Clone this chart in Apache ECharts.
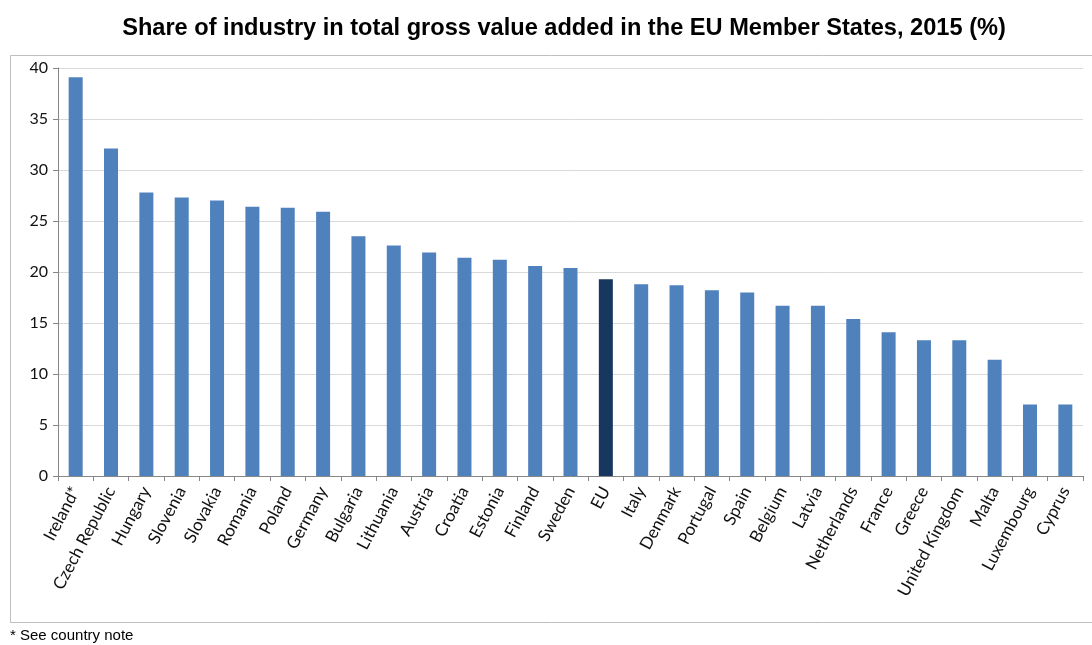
<!DOCTYPE html>
<html><head><meta charset="utf-8">
<script src="https://cdn.jsdelivr.net/npm/echarts@6/dist/echarts.min.js"></script>
<style>html,body{margin:0;padding:0;background:#fff}#c{width:1092px;height:645px}</style>
</head><body><div id="c"></div>
<script>
const categories = ["Ireland*","Czech Republic","Hungary","Slovenia","Slovakia","Romania","Poland","Germany","Bulgaria","Lithuania","Austria","Croatia","Estonia","Finland","Sweden","EU","Italy","Denmark","Portugal","Spain","Belgium","Latvia","Netherlands","France","Greece","United Kingdom","Malta","Luxembourg","Cyprus"];
const values = [39.1,32.1,27.8,27.3,27.0,26.4,26.3,25.9,23.5,22.6,21.9,21.4,21.2,20.6,20.4,19.3,18.8,18.7,18.2,18.0,16.7,16.7,15.4,14.1,13.3,13.3,11.4,7.0,7.0];
const highlight = "EU";
const yTicks = [0,5,10,15,20,25,30,35,40];

const chart = echarts.init(document.getElementById('c'), null, {renderer:'canvas'});
chart.setOption({
  animation:false,
  backgroundColor:'#fff',
  title:{text:'Share of industry in total gross value added in the EU Member States, 2015 (%)',left:559,top:11,textAlign:'center',
    textStyle:{fontFamily:'Liberation Sans, Arial',fontWeight:'bold',fontSize:23.6,color:'#000'}},
  graphic:[
    {type:'rect',shape:{x:10.5,y:55.5,width:1090,height:567},style:{fill:'none',stroke:'#BFBFBF',lineWidth:1},silent:true,z:-1},
    {type:'text',left:10,top:628,style:{text:'* See country note',font:'15px "Liberation Sans", Arial',fill:'#000'}}
  ],
  grid:{left:58,right:9,top:68,bottom:169},
  xAxis:{type:'category',data:categories,
    axisLine:{lineStyle:{color:'#868686'}},
    axisTick:{show:true,length:5,lineStyle:{color:'#868686'}},
    axisLabel:{rotate:62,interval:0,fontFamily:'Lato, "Open Sans", sans-serif',fontSize:17,color:'#111',margin:12}},
  yAxis:{type:'value',min:0,max:40,interval:5,
    axisLine:{show:true,lineStyle:{color:'#868686'}},
    axisTick:{show:true,length:5,lineStyle:{color:'#868686'}},
    splitLine:{lineStyle:{color:'#D9D9D9'}},
    axisLabel:{fontFamily:'Lato, "Open Sans", sans-serif',fontSize:16,color:'#111',margin:10}},
  series:[{type:'bar',barWidth:14,
    data:values.map((v,i)=>({value:v,itemStyle:{color:categories[i]===highlight?'#17375E':'#4F81BD'}}))}]
});
</script></body></html>
